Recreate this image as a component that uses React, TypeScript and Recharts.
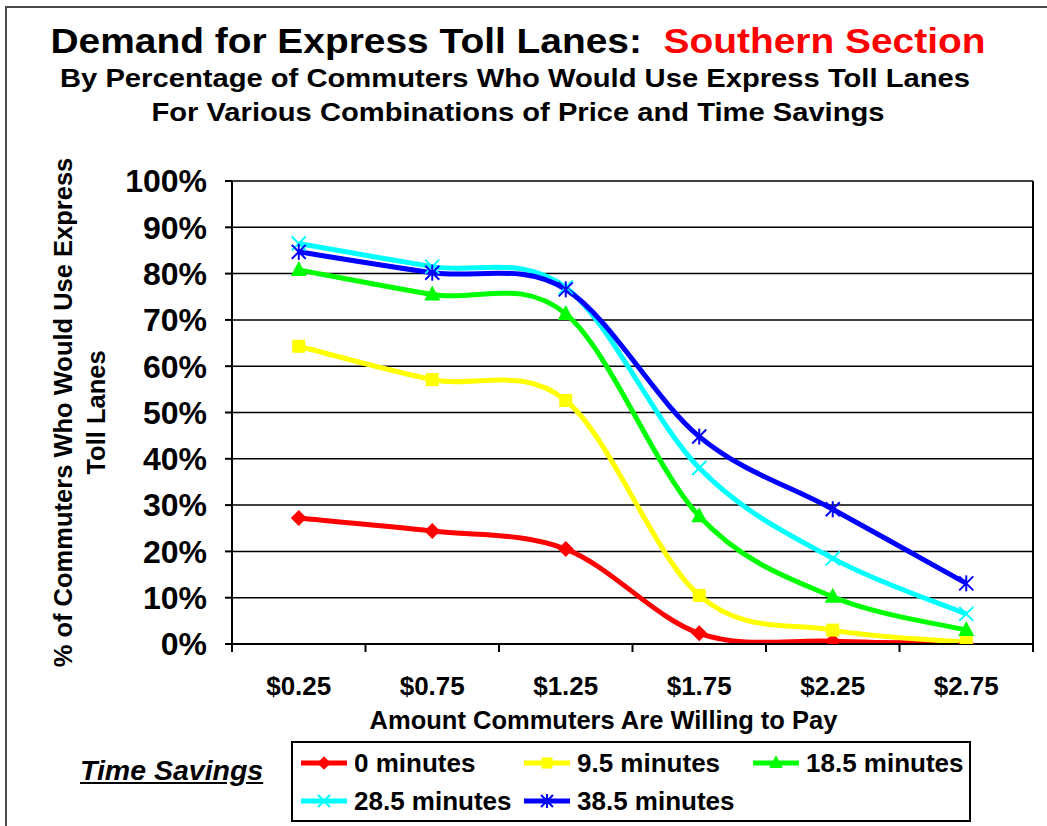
import React from 'react';
import {
  LineChart,
  Line,
  XAxis,
  YAxis,
  CartesianGrid,
  Legend,
  ReferenceLine,
} from 'recharts';

// ---------- data ----------
const prices = ['$0.25', '$0.75', '$1.25', '$1.75', '$2.25', '$2.75'];
const min0 = [27.2, 24.4, 20.5, 2.3, 0.6, 0.1];
const min9 = [64.3, 57.1, 52.6, 10.5, 3.0, 0.4];
const min18 = [80.8, 75.5, 71.3, 27.6, 10.2, 3.0];
const min28 = [86.5, 81.5, 77.0, 38.0, 18.5, 6.5];
const min38 = [84.7, 80.2, 76.6, 44.8, 29.1, 13.1];
const yTicks = [0, 10, 20, 30, 40, 50, 60, 70, 80, 90, 100];
const seriesNames = ['0 minutes', '9.5 minutes', '18.5 minutes', '28.5 minutes', '38.5 minutes'];

const data = prices.map((p, i) => ({
  x: i + 0.5,
  price: p,
  m0: min0[i],
  m9: min9[i],
  m18: min18[i],
  m28: min28[i],
  m38: min38[i],
}));

// ---------- layout ----------
const W = 1047;
const H = 826;
const MARGIN = { top: 181, right: 14, bottom: 92, left: 0 };
const Y_AXIS_W = 232;
const X_AXIS_H = 90;
const PLOT_W = W - MARGIN.left - MARGIN.right - Y_AXIS_W;
const HALF_BAND = PLOT_W / prices.length / 2;
const FONT = '"Liberation Sans", Arial, Helvetica, sans-serif';

// Excel-like smoothing (Catmull-Rom through the points)
function smoothCurve(context: any) {
  let pts: number[][] = [];
  return {
    areaStart() {},
    areaEnd() {},
    lineStart() {
      pts = [];
    },
    point(x: number, y: number) {
      pts.push([+x, +y]);
    },
    lineEnd() {
      const n = pts.length;
      if (!n) return;
      context.moveTo(pts[0][0], pts[0][1]);
      for (let i = 0; i < n - 1; i++) {
        const p0 = pts[i - 1] || pts[i];
        const p1 = pts[i];
        const p2 = pts[i + 1];
        const p3 = pts[i + 2] || p2;
        context.bezierCurveTo(
          p1[0] + (p2[0] - p0[0]) / 6,
          p1[1] + (p2[1] - p0[1]) / 6,
          p2[0] - (p3[0] - p1[0]) / 6,
          p2[1] - (p3[1] - p1[1]) / 6,
          p2[0],
          p2[1]
        );
      }
    },
  };
}

// ---------- markers ----------
type MarkerKind = 'diamond' | 'square' | 'triangle' | 'x' | 'star';

function Marker({ kind, cx, cy, color, s = 1 }: { kind: MarkerKind; cx: number; cy: number; color: string; s?: number }) {
  if (kind === 'diamond') {
    const r = 8 * s;
    return <polygon points={`${cx},${cy - r} ${cx + r},${cy} ${cx},${cy + r} ${cx - r},${cy}`} fill={color} />;
  }
  if (kind === 'square') {
    const r = 6.5 * s;
    return <rect x={cx - r} y={cy - r} width={2 * r} height={2 * r} fill={color} />;
  }
  if (kind === 'triangle') {
    return (
      <polygon
        points={`${cx},${cy - 9 * s} ${cx + 8 * s},${cy + 6 * s} ${cx - 8 * s},${cy + 6 * s}`}
        fill={color}
      />
    );
  }
  const r = 7 * s;
  return (
    <g stroke={color} strokeWidth={2}>
      <line x1={cx - r} y1={cy - r} x2={cx + r} y2={cy + r} />
      <line x1={cx - r} y1={cy + r} x2={cx + r} y2={cy - r} />
      {kind === 'star' && <line x1={cx} y1={cy - r - 1} x2={cx} y2={cy + r + 1} />}
    </g>
  );
}

const series: { key: string; name: string; color: string; kind: MarkerKind }[] = [
  { key: 'm0', name: seriesNames[0], color: '#FF0000', kind: 'diamond' },
  { key: 'm9', name: seriesNames[1], color: '#FFFF00', kind: 'square' },
  { key: 'm18', name: seriesNames[2], color: '#00FF00', kind: 'triangle' },
  { key: 'm28', name: seriesNames[3], color: '#00FFFF', kind: 'x' },
  { key: 'm38', name: seriesNames[4], color: '#0000FF', kind: 'star' },
];

const makeDot = (kind: MarkerKind, color: string) => (props: any) => {
  const { cx, cy, index } = props;
  if (cx == null || cy == null) return <g key={`d-${index}`} />;
  return (
    <g key={`d-${kind}-${index}`}>
      <Marker kind={kind} cx={cx} cy={cy} color={color} />
    </g>
  );
};

// ---------- axis pieces ----------
const PriceTick = (props: any) => {
  const { x, y, payload } = props;
  const v = payload?.value;
  if (v == null || v >= prices.length) return <g />;
  return (
    <text
      x={x + HALF_BAND}
      y={y + 43}
      textAnchor="middle"
      fontFamily={FONT}
      fontWeight="bold"
      fontSize={26}
      fill="#000"
    >
      {prices[v]}
    </text>
  );
};

const XTitle = (props: any) => {
  const vb = props.viewBox || { x: 0, y: 0, width: 0, height: 0 };
  return (
    <text
      x={vb.x + vb.width / 2 - 29}
      y={vb.y + 85}
      textAnchor="middle"
      fontFamily={FONT}
      fontWeight="bold"
      fontSize={25.5}
      fill="#000"
    >
      Amount Commuters Are Willing to Pay
    </text>
  );
};

const YTitle = (props: any) => {
  const vb = props.viewBox || { x: 0, y: 0, width: 0, height: 0 };
  const cy = vb.y + vb.height / 2 - 0;
  const x1 = vb.x + 63;
  const x2 = vb.x + 96;
  return (
    <g fontFamily={FONT} fontWeight="bold" fontSize={25.5} fill="#000">
      <text
        x={x1}
        y={cy}
        transform={`rotate(-90 ${x1} ${cy})`}
        textAnchor="middle"
        dominantBaseline="central"
      >
        % of Commuters Who Would Use Express
      </text>
      <text
        x={x2}
        y={cy}
        transform={`rotate(-90 ${x2} ${cy})`}
        textAnchor="middle"
        dominantBaseline="central"
      >
        Toll Lanes
      </text>
    </g>
  );
};

// ---------- legend ----------
const legendPos = [
  { left: 230, top: 22 },
  { left: 453, top: 22 },
  { left: 682, top: 22 },
  { left: 230, top: 60 },
  { left: 453, top: 60 },
];

const LegendContent = () => (
  <div style={{ position: 'relative', width: 900, height: 82, fontFamily: FONT }}>
    <div
      style={{
        position: 'absolute',
        left: 10,
        top: 14,
        fontSize: 28.5,
        fontWeight: 'bold',
        fontStyle: 'italic',
        textDecoration: 'underline',
        lineHeight: '30px',
        color: '#000',
        whiteSpace: 'nowrap',
      }}
    >
      Time Savings
    </div>
    <div
      style={{
        position: 'absolute',
        left: 221,
        top: 0,
        width: 676,
        height: 77,
        border: '2px solid #000',
        background: '#fff',
      }}
    />
    {series.map((s, i) => (
      <div
        key={s.key}
        style={{
          position: 'absolute',
          left: legendPos[i].left,
          top: legendPos[i].top - 13,
          height: 26,
          display: 'flex',
          alignItems: 'center',
          whiteSpace: 'nowrap',
        }}
      >
        <svg width={48} height={26} style={{ display: 'block' }}>
          <line x1={1} y1={13} x2={47} y2={13} stroke={s.color} strokeWidth={5} />
          <Marker kind={s.kind} cx={24} cy={13} color={s.color} s={0.85} />
        </svg>
        <span style={{ marginLeft: 6, fontSize: 26, fontWeight: 'bold', color: '#000', lineHeight: '26px' }}>
          {s.name}
        </span>
      </div>
    ))}
  </div>
);

export default function App() {
  return (
    <div
      style={{
        position: 'absolute',
        left: 0,
        top: 0,
        width: W,
        height: H,
        overflow: 'hidden',
        background: '#fff',
        fontFamily: FONT,
      }}
    >
      <div
        style={{
          position: 'absolute',
          left: 5,
          top: 6,
          width: 1200,
          height: 1000,
          border: '2px solid #4a4a4a',
          boxSizing: 'border-box',
        }}
      />
      <svg width={W} height={150} style={{ position: 'absolute', left: 0, top: 0 }}>
        <text
          x={518}
          y={53}
          textAnchor="middle"
          fontFamily={FONT}
          fontWeight="bold"
          fontSize={35}
          textLength={935}
          lengthAdjust="spacingAndGlyphs"
          style={{ whiteSpace: 'pre' }}
        >
          <tspan fill="#000">{'Demand for Express Toll Lanes:  '}</tspan>
          <tspan fill="#FF0000">Southern Section</tspan>
        </text>
        <text
          x={515}
          y={87}
          textAnchor="middle"
          fontFamily={FONT}
          fontWeight="bold"
          fontSize={26}
          textLength={910}
          lengthAdjust="spacingAndGlyphs"
          fill="#000"
        >
          By Percentage of Commuters Who Would Use Express Toll Lanes
        </text>
        <text
          x={518}
          y={121}
          textAnchor="middle"
          fontFamily={FONT}
          fontWeight="bold"
          fontSize={26}
          textLength={733}
          lengthAdjust="spacingAndGlyphs"
          fill="#000"
        >
          For Various Combinations of Price and Time Savings
        </text>
      </svg>
      <div style={{ position: 'absolute', left: 0, top: 0 }}>
        <LineChart width={W} height={H} data={data} margin={MARGIN}>
          <CartesianGrid vertical={false} stroke="#000" strokeWidth={1.5} />
          <XAxis
            type="number"
            dataKey="x"
            domain={[0, 6]}
            allowDataOverflow
            ticks={[0, 1, 2, 3, 4, 5, 6]}
            interval={0}
            height={X_AXIS_H}
            tickSize={8}
            tickMargin={0}
            tickLine={{ stroke: '#000', strokeWidth: 2 }}
            axisLine={{ stroke: '#000', strokeWidth: 2 }}
            tick={<PriceTick />}
            label={<XTitle />}
          />
          <YAxis
            type="number"
            domain={[0, 100]}
            allowDataOverflow
            ticks={yTicks}
            interval={0}
            width={Y_AXIS_W}
            tickSize={7}
            tickMargin={18}
            tickLine={{ stroke: '#000', strokeWidth: 2 }}
            axisLine={{ stroke: '#000', strokeWidth: 2 }}
            tick={{ fill: '#000', fontSize: 32, fontWeight: 'bold', fontFamily: FONT }}
            tickFormatter={(v: number) => `${v}%`}
            label={<YTitle />}
          />
          <ReferenceLine x={6} stroke="#000" strokeWidth={2} />
          {series.map((s) => (
            <Line
              key={s.key}
              dataKey={s.key}
              name={s.name}
              type={smoothCurve as any}
              stroke={s.color}
              strokeWidth={5}
              dot={makeDot(s.kind, s.color)}
              activeDot={false}
              isAnimationActive={false}
            />
          ))}
          <Legend
            layout="vertical"
            align="center"
            verticalAlign="middle"
            content={<LegendContent />}
            wrapperStyle={{ left: 70, top: 741, width: 900, height: 82, bottom: 'auto', right: 'auto' }}
          />
        </LineChart>
      </div>
    </div>
  );
}
